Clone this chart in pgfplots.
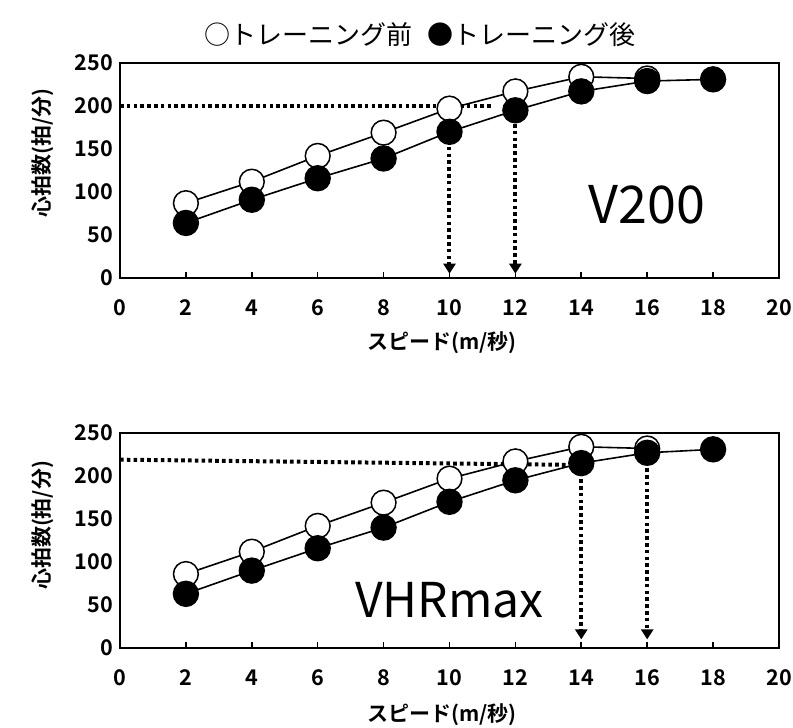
\documentclass[border=0pt]{standalone}
\usepackage{fontspec}
\setmainfont{Noto Sans CJK JP}[BoldFont={Noto Sans CJK JP Bold}]
\usepackage{pgfplots}
\pgfplotsset{compat=1.18}
\usetikzlibrary{arrows.meta}
\pgfplotsset{
 hr/.style={
  scale only axis, width=329.5pt, height=107.5pt,
  xmin=0,xmax=20,ymin=0,ymax=250,
  xtick={0,2,...,20}, ytick={0,50,...,250},
  xtick pos=bottom, ytick pos=left,
  tick align=inside, major tick length=3pt,
  axis line style={line width=1pt},
  every tick/.style={line width=0.8pt, black},
  ytick style={draw=none},
  tick label style={font=\bfseries\fontsize{10.8}{12}\selectfont},
  /pgf/number format/assume math mode=true,
  xticklabel style={anchor=base, yshift=-18.5pt},
  xlabel={スピード(m/秒)}, ylabel={心拍数(拍/分)},
  label style={font=\bfseries\fontsize{10.5}{12}\selectfont},
  clip=false,
 },
 pre/.style={black, line width=0.8pt, mark=*, mark size=6.2pt, mark options={fill=white, line width=0.75pt}},
 post/.style={black, line width=0.8pt, mark=*, mark size=6.2pt, mark options={fill=black}},
 dots/.style={black, line width=2pt, dash pattern=on 1.8pt off 1.6pt, no marks},
 arr/.style={dots, -{Triangle[width=6pt,length=5pt]}},
}
\begin{document}
\begin{tikzpicture}
\begin{axis}[hr, name=top,
  xlabel style={at={(axis description cs:0.489,-0.302)}, anchor=center},
  ylabel style={at={(axis description cs:-0.117,0.58)}, anchor=center, rotate=0}]
\addplot[pre] coordinates {(2,87) (4,112) (6,142) (8,169) (10,197) (12,217) (14,234) (16,232)};
\addplot[dots] coordinates {(0,200) (11.3,200)};
\addplot[arr] coordinates {(10,200) (10,5)};
\addplot[arr] coordinates {(12,195) (12,5)};
\addplot[post] coordinates {(2,64) (4,91) (6,116) (8,139) (10,170) (12,195) (14,217) (16,229) (18,231)};
\node[font=\fontsize{26}{30}\selectfont] at (rel axis cs:0.8,0.34) {V200};
\end{axis}
\begin{axis}[hr, name=bot, at={(0,-185pt)},
  xlabel style={at={(axis description cs:0.489,-0.31)}, anchor=center},
  ylabel style={at={(axis description cs:-0.117,0.57)}, anchor=center, rotate=0}]
\addplot[pre] coordinates {(2,86) (4,112) (6,142) (8,169) (10,197) (12,217) (14,234) (16,232)};
\addplot[dots] coordinates {(0,219) (13.6,213)};
\addplot[arr] coordinates {(14,212) (14,10)};
\addplot[arr] coordinates {(16,225) (16,10)};
\addplot[post] coordinates {(2,63) (4,90) (6,116) (8,140) (10,170) (12,195) (14,215) (16,227) (18,231)};
\node[font=\fontsize{24}{28}\selectfont] at (rel axis cs:0.5,0.22) {VHRmax};
\end{axis}
\node[font=\fontsize{13}{15}\selectfont] at ([shift={(150pt,121.5pt)}]top.south west) {○トレーニング前\hspace{0.6em}●トレーニング後};
\pgfresetboundingbox
\path[use as bounding box] ([shift={(-60pt,-225pt)}]top.south west) rectangle ([shift={(336.5pt,139pt)}]top.south west);
\end{tikzpicture}
\end{document}
